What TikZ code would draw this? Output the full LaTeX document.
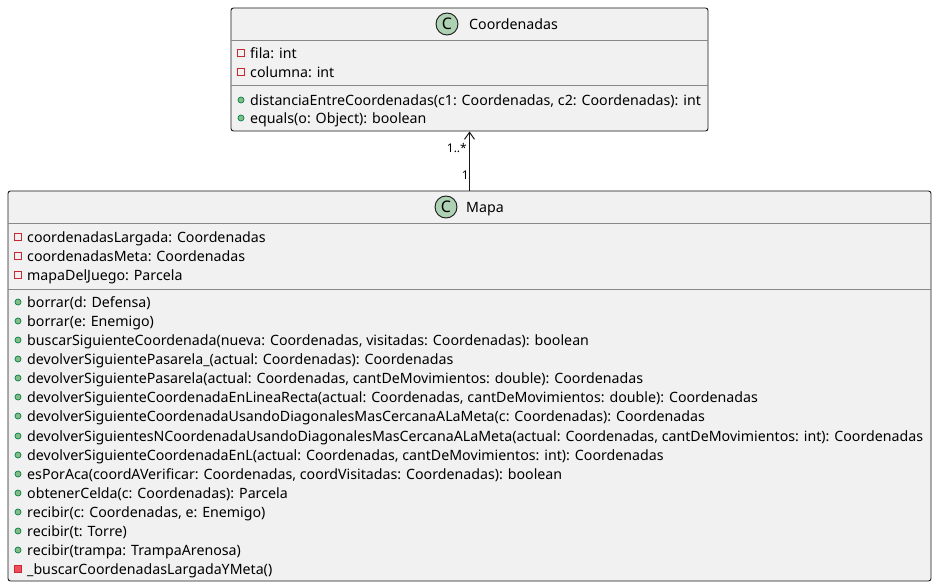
\documentclass[tikz,border=0pt]{standalone}
\usepackage{fontspec}
\setmainfont{Noto Sans}
\usetikzlibrary{arrows.meta}
\definecolor{boxfill}{HTML}{F1F1F1}
\definecolor{boxline}{HTML}{181818}
\definecolor{sepgray}{HTML}{888888}
\definecolor{iconfill}{HTML}{ADD1B2}
\definecolor{pubfill}{HTML}{84BE84}
\definecolor{publine}{HTML}{038048}
\definecolor{privline}{HTML}{C82930}
\definecolor{privfill}{HTML}{F24D5C}
\tikzset{
  classbox/.style={draw=boxline, fill=boxfill, rounded corners=2.5pt, line width=0.9pt, inner sep=0pt},
  member/.style={anchor=west, inner sep=0pt, text height=13pt, text depth=1.5pt, font=\fontsize{14.2pt}{16pt}\selectfont},
  title/.style={member},
  mult/.style={inner sep=0pt, text height=11pt, text depth=2pt, font=\fontsize{12pt}{13pt}\selectfont},
  sepline/.style={draw=sepgray, line width=0.9pt},
  pub/.style={fill=pubfill, draw=publine, line width=0.7pt},
  privattr/.style={draw=privline, line width=1pt},
  privop/.style={fill=privfill, draw=privline, line width=0.7pt}
}
\newcommand{\classicon}[1]{%
  \filldraw[fill=iconfill, draw=boxline, line width=0.9pt] (#1) circle (11pt);
  \node[font=\fontsize{16pt}{16pt}\selectfont\bfseries, inner sep=0pt] at (#1) {C};}
\newcommand{\pubmark}[1]{\filldraw[pub] (#1) circle (3pt);}
\newcommand{\privattrmark}[1]{\draw[privattr] ($(#1)+(-3.2,-3.2)$) rectangle ($(#1)+(3.2,3.2)$);}
\newcommand{\privopmark}[1]{\filldraw[privop] ($(#1)+(-3.6,-3.6)$) rectangle ($(#1)+(3.6,3.6)$);}
\usetikzlibrary{calc}
\begin{document}
\begin{tikzpicture}[x=1pt, y=-1pt]
  \useasboundingbox (0,0) rectangle (937,588);

  % classes
  \node[classbox, minimum width=477pt, minimum height=123pt] (coord) at (469.5,69.5) {};
  \node[classbox, minimum width=923pt, minimum height=390pt] (mapa) at (469.5,386) {};

  % Coordenadas
  \classicon{447,24}
  \node[title] (coordname) at (469,24) {Coordenadas};
  \draw[sepline] (coord.west |- 0,40) -- (coord.east |- 0,40);
  \draw[sepline] (coord.west |- 0,85) -- (coord.east |- 0,85);
  \privattrmark{241,53}
  \node[member] (c-a1) at (250,53) {fila: int};
  \privattrmark{241,72}
  \node[member] (c-a2) at (250,72) {columna: int};
  \pubmark{241,100}
  \node[member] (c-m1) at (250,100) {distanciaEntreCoordenadas(c1: Coordenadas, c2: Coordenadas): int};
  \pubmark{241,118}
  \node[member] (c-m2) at (250,118) {equals(o: Object): boolean};

  % Mapa
  \classicon{446,207}
  \node[title] (mapaname) at (466,207) {Mapa};
  \draw[sepline] (mapa.west |- 0,223) -- (mapa.east |- 0,223);
  \draw[sepline] (mapa.west |- 0,289) -- (mapa.east |- 0,289);
  \privattrmark{18,237}
  \node[member] (m-a1) at (27,237) {coordenadasLargada: Coordenadas};
  \privattrmark{18,256}
  \node[member] (m-a2) at (27,256) {coordenadasMeta: Coordenadas};
  \privattrmark{18,275}
  \node[member] (m-a3) at (27,275) {mapaDelJuego: Parcela};

  \pubmark{18,302}
  \node[member] (m-m1) at (27,302) {borrar(d: Defensa)};
  \pubmark{18,321}
  \node[member] (m-m2) at (27,321) {borrar(e: Enemigo)};
  \pubmark{18,340}
  \node[member] (m-m3) at (27,340) {buscarSiguienteCoordenada(nueva: Coordenadas, visitadas: Coordenadas): boolean};
  \pubmark{18,359}
  \node[member] (m-m4) at (27,359) {devolverSiguientePasarela\_(actual: Coordenadas): Coordenadas};
  \pubmark{18,378}
  \node[member] (m-m5) at (27,378) {devolverSiguientePasarela(actual: Coordenadas, cantDeMovimientos: double): Coordenadas};
  \pubmark{18,397}
  \node[member] (m-m6) at (27,397) {devolverSiguienteCoordenadaEnLineaRecta(actual: Coordenadas, cantDeMovimientos: double): Coordenadas};
  \pubmark{18,416}
  \node[member] (m-m7) at (27,416) {devolverSiguienteCoordenadaUsandoDiagonalesMasCercanaALaMeta(c: Coordenadas): Coordenadas};
  \pubmark{18,436}
  \node[member] (m-m8) at (27,436) {devolverSiguientesNCoordenadaUsandoDiagonalesMasCercanaALaMeta(actual: Coordenadas, cantDeMovimientos: int): Coordenadas};
  \pubmark{18,455}
  \node[member] (m-m9) at (27,455) {devolverSiguienteCoordenadaEnL(actual: Coordenadas, cantDeMovimientos: int): Coordenadas};
  \pubmark{18,474}
  \node[member] (m-m10) at (27,474) {esPorAca(coordAVerificar: Coordenadas, coordVisitadas: Coordenadas): boolean};
  \pubmark{18,493}
  \node[member] (m-m11) at (27,493) {obtenerCelda(c: Coordenadas): Parcela};
  \pubmark{18,512}
  \node[member] (m-m12) at (27,512) {recibir(c: Coordenadas, e: Enemigo)};
  \pubmark{18,531}
  \node[member] (m-m13) at (27,531) {recibir(t: Torre)};
  \pubmark{18,550}
  \node[member] (m-m14) at (27,550) {recibir(trampa: TrampaArenosa)};
  \privopmark{18,569}
  \node[member] (m-m15) at (27,569) {\_buscarCoordenadasLargadaYMeta()};

  % association
  \draw[boxline, line width=1pt, -{Straight Barb[length=7pt, width=10pt]}] (mapa.north) -- (coord.south);
  \node[mult, anchor=east] (many) at (467,148) {1..*};
  \node[mult, anchor=east] (one) at (469,175) {1};
\end{tikzpicture}
\end{document}
